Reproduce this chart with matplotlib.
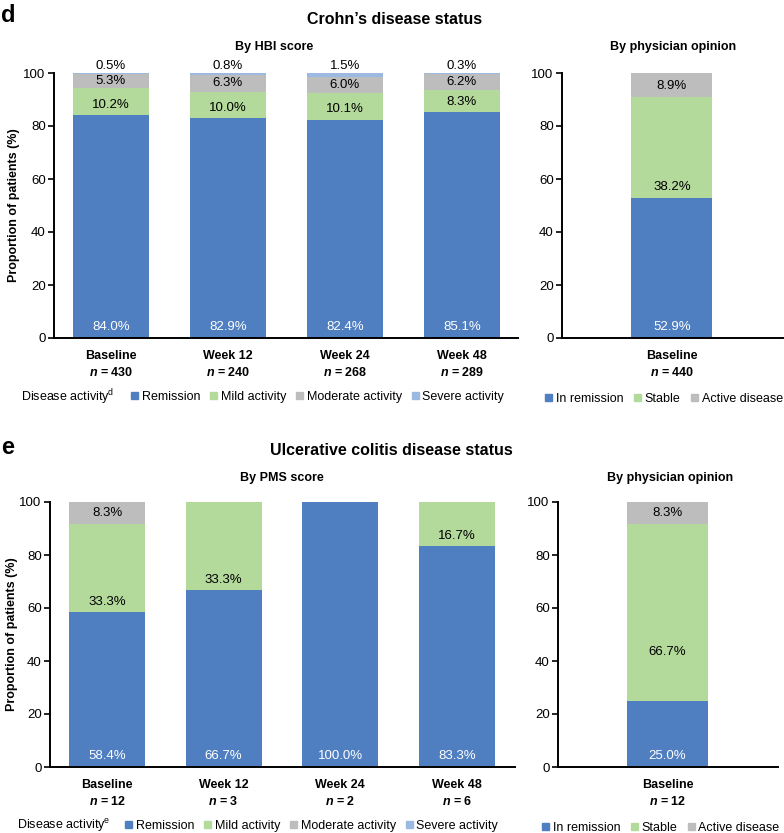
import matplotlib
matplotlib.use('Agg')
import matplotlib.pyplot as plt
from matplotlib.patches import Patch
import numpy as np

plt.rcParams['font.family'] = ['Liberation Sans', 'DejaVu Sans']
plt.rcParams['mathtext.fontset'] = 'custom'
plt.rcParams['mathtext.it'] = 'Liberation Sans:italic:bold'
plt.rcParams['mathtext.rm'] = 'Liberation Sans'

# ---- data ----
timepoints = ['Baseline', 'Week 12', 'Week 24', 'Week 48']

cd_n = [430, 240, 268, 289]
cd_remission = [84.0, 82.9, 82.4, 85.1]
cd_mild = [10.2, 10.0, 10.1, 8.3]
cd_moderate = [5.3, 6.3, 6.0, 6.2]
cd_severe = [0.5, 0.8, 1.5, 0.3]

cd_phys_n = 440
cd_phys_remission = 52.9
cd_phys_stable = 38.2
cd_phys_active = 8.9

uc_n = [12, 3, 2, 6]
uc_remission = [58.4, 66.7, 100.0, 83.3]
uc_mild = [33.3, 33.3, 0.0, 16.7]
uc_moderate = [8.3, 0.0, 0.0, 0.0]
uc_severe = [0.0, 0.0, 0.0, 0.0]

uc_phys_n = 12
uc_phys_remission = 25.0
uc_phys_stable = 66.7
uc_phys_active = 8.3

activity_labels = ['Remission', 'Mild activity', 'Moderate activity', 'Severe activity']
opinion_labels = ['In remission', 'Stable', 'Active disease']

# ---- style ----
BLUE = '#4f7ec1'
GREEN = '#b4da9b'
GREY = '#bdbdbd'
LBLUE = '#9cb9e2'
colors = [BLUE, GREEN, GREY, LBLUE]

W, H = 784, 833
fig = plt.figure(figsize=(W / 100, H / 100), dpi=100)


def px_rect(x0, x1, ytop, ybot):
    return [x0 / W, 1 - ybot / H, (x1 - x0) / W, (ybot - ytop) / H]


def style_axes(ax):
    for s in ['top', 'right']:
        ax.spines[s].set_visible(False)
    ax.spines['left'].set_linewidth(1.4)
    ax.spines['bottom'].set_linewidth(1.4)
    ax.set_ylim(0, 100)
    ax.set_yticks(np.arange(0, 101, 20))
    ax.tick_params(axis='y', length=4, width=1.2, labelsize=9.5, pad=2)
    ax.tick_params(axis='x', length=0, labelsize=9, pad=9)


def seg_y(bottom, h, lift=None):
    if lift is not None:
        return bottom + lift
    return bottom + min(h / 2, 4)


def stacked(ax, series, n_list, cats, width, lifts=None):
    x = np.arange(len(cats))
    bottom = np.zeros(len(cats))
    for k, vals in enumerate(series):
        vals = np.array(vals, dtype=float)
        ax.bar(x, vals, width, bottom=bottom, color=colors[k], linewidth=0)
        for i, v in enumerate(vals):
            if v <= 0:
                continue
            txt = f'{v:.1f}%'
            if k == 0:
                ax.text(x[i], 4.2, txt, ha='center', va='center', color='white', fontsize=9.5)
            elif k == 3:
                ax.text(x[i], 102.5, txt, ha='center', va='center', color='black',
                        fontsize=9.5, clip_on=False)
            else:
                lift = None if lifts is None else lifts[k]
                ax.text(x[i], seg_y(bottom[i], v, lift), txt, ha='center', va='center',
                        color='black', fontsize=9.5)
        bottom += vals
    ax.set_xticks(x)
    ax.set_xticklabels([f'{c}\n$\\mathit{{n}}$ = {n}' for c, n in zip(cats, n_list)],
                       fontweight='bold', linespacing=1.35)


# ---------- panel d ----------
ax1 = fig.add_axes(px_rect(54, 518, 73, 338))
style_axes(ax1)
stacked(ax1, [cd_remission, cd_mild, cd_moderate, cd_severe], cd_n, timepoints, 0.65)
ax1.set_xlim(-0.487, 3.48)
ax1.set_ylabel('Proportion of patients (%)', fontsize=9, fontweight='bold')
ax1.yaxis.set_label_coords(-0.073, 0.5)

ax2 = fig.add_axes(px_rect(562, 783, 73, 338))
style_axes(ax2)
stacked(ax2, [[cd_phys_remission], [cd_phys_stable], [cd_phys_active]], [cd_phys_n],
        ['Baseline'], 0.66)
ax2.set_xlim(-0.896, 0.905)

# ---------- panel e ----------
ax3 = fig.add_axes(px_rect(50, 515, 502, 767))
style_axes(ax3)
stacked(ax3, [uc_remission, uc_mild, uc_moderate, uc_severe], uc_n, timepoints, 0.65)
ax3.set_xlim(-0.49, 3.5)
ax3.set_ylabel('Proportion of patients (%)', fontsize=9, fontweight='bold')
ax3.yaxis.set_label_coords(-0.068, 0.5)

ax4 = fig.add_axes(px_rect(558, 778, 502, 767))
style_axes(ax4)
stacked(ax4, [[uc_phys_remission], [uc_phys_stable], [uc_phys_active]], [uc_phys_n],
        ['Baseline'], 0.66, lifts={1: 18.4, 2: None})
ax4.set_xlim(-0.89, 0.9)

# ---------- titles ----------
fig.text(1 / W, 1 - 16 / H, 'd', fontsize=17, fontweight='bold', va='center', ha='left')
fig.text(395 / W, 1 - 20 / H, 'Crohn\u2019s disease status', fontsize=11.5, fontweight='bold',
         ha='center', va='center')
fig.text(274 / W, 1 - 47 / H, 'By HBI score', fontsize=9, fontweight='bold', ha='center', va='center')
fig.text(673 / W, 1 - 47 / H, 'By physician opinion', fontsize=9, fontweight='bold',
         ha='center', va='center')

fig.text(1 / W, 1 - 448 / H, 'e', fontsize=17, fontweight='bold', va='center', ha='left')
fig.text(391 / W, 1 - 451 / H, 'Ulcerative colitis disease status', fontsize=11.5, fontweight='bold',
         ha='center', va='center')
fig.text(282 / W, 1 - 478 / H, 'By PMS score', fontsize=9, fontweight='bold', ha='center', va='center')
fig.text(670 / W, 1 - 478 / H, 'By physician opinion', fontsize=9, fontweight='bold',
         ha='center', va='center')

# ---------- legends ----------
act_handles = [Patch(color=c) for c in colors]
op_handles = [Patch(color=c) for c in colors[:3]]
leg_kw = dict(frameon=False, handlelength=0.55, handleheight=0.55, handletextpad=0.3,
              borderaxespad=0, borderpad=0, fontsize=9)


def add_legends(y, x_text, x_act, x_op, sup):
    fig.text(x_text / W, 1 - y / H, 'Disease activity$^{\\mathrm{' + sup + '}}$',
             fontsize=9, va='center', ha='left')
    fig.legend(act_handles, activity_labels, loc='center left', bbox_to_anchor=(x_act / W, 1 - y / H),
               ncol=4, columnspacing=0.8, **leg_kw)
    fig.legend(op_handles, opinion_labels, loc='center left',
               bbox_to_anchor=(x_op / W, 1 - (y + 2) / H), ncol=3, columnspacing=0.85, **leg_kw)


add_legends(397, 21, 131, 545, 'd')
add_legends(826, 17, 125, 542, 'e')

fig.savefig('out.png', dpi=100)
